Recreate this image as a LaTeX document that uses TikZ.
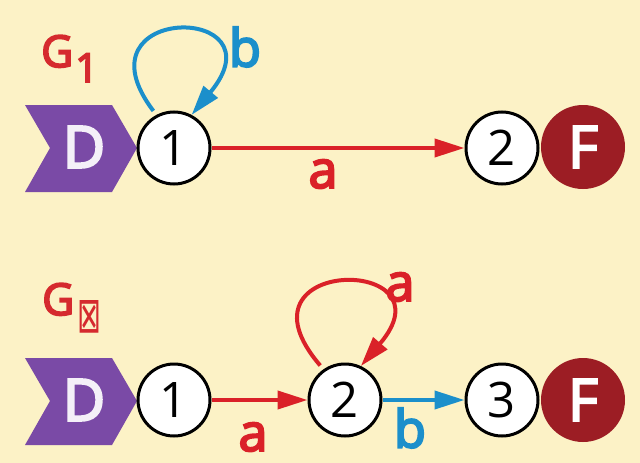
\documentclass[tikz,border=0pt]{standalone}
\usepackage{fontspec}
\setmainfont{Open Sans}
\newfontfamily\semib[FakeBold=4]{Open Sans}
\newfontfamily\symfont{DejaVu Sans}
\usetikzlibrary{arrows.meta}
\definecolor{bgyel}{HTML}{FCF2C6}
\definecolor{edred}{HTML}{DA2128}
\definecolor{gred}{HTML}{D52A2E}
\definecolor{edblue}{HTML}{1B8FCB}
\definecolor{chpurple}{HTML}{7A4AA6}
\definecolor{findred}{HTML}{9C1D24}
\tikzset{
  state/.style={circle, draw=black, line width=3pt, fill=white, minimum size=72pt, inner sep=0pt, font=\fontsize{49}{49}\selectfont},
  final/.style={circle, fill=findred, minimum size=84pt, inner sep=0pt, text=white, font=\fontsize{58}{58}\selectfont\semib},
  chev/.style={fill=chpurple},
  chevtext/.style={text=white!92!chpurple, font=\fontsize{58}{58}\selectfont\semib},
  redge/.style={draw=edred, line width=4pt, -{Triangle[length=30pt,width=18pt]}},
  bedge/.style={draw=edblue, line width=4pt, -{Triangle[length=30pt,width=18pt]}},
  lbl/.style={font=\fontsize{52}{52}\selectfont\semib},
  glbl/.style={text=gred, font=\fontsize{44}{44}\selectfont\semib, inner sep=0pt},
}
\begin{document}
\begin{tikzpicture}[x=1pt,y=-1pt]
\fill[bgyel] (0,0) rectangle (640,463);
\useasboundingbox (0,0) rectangle (640,463);
% ---- top automaton G1 ----
\fill[chev] (25,105) -- (112,105) -- (137,148) -- (112,192) -- (25,192) -- (50,148) -- cycle;
\node[chevtext] (d1) at (84,147) {D};
\node[state] (a1) at (174,148) {1};
\node[state] (a2) at (502,148) {2};
\node[final] (af) at (583,147) {F};
\node[glbl, anchor=base west] (g1) at (41,67) {G\hspace{2pt}\raisebox{-15pt}{\fontsize{40}{40}\selectfont 1}};
\draw[redge] (a1) -- (a2);
\node[lbl, text=edred] (la1) at (323,174) {a};
\draw[bedge, shorten <=5pt] (a1.118) .. controls +(-85,-112) and +(93,-112) .. (a1.62);
\node[lbl, text=edblue] (lb1) at (245,47) {b};
% ---- bottom automaton ----
\fill[chev] (25,358) -- (112,358) -- (137,401) -- (112,445) -- (25,445) -- (50,401) -- cycle;
\node[chevtext] (d2) at (84,400) {D};
\node[state] (b1) at (174,400) {1};
\node[state] (b2) at (345,400) {2};
\node[state] (b3) at (502,400) {3};
\node[final] (bf) at (583,400) {F};
\node[glbl, anchor=base west] (g2) at (42,315) {G\hspace{3pt}\raisebox{-17pt}{\resizebox{24pt}{32pt}{\symfont ⊠}}};
\draw[redge] (b1) -- (b2);
\node[lbl, text=edred] (la2) at (253,437) {a};
\draw[bedge] (b2) -- (b3);
\node[lbl, text=edblue] (lb2) at (410,428) {b};
\draw[redge, shorten <=5pt] (b2.125) .. controls +(-98,-114) and +(95,-111) .. (b2.65);
\node[lbl, text=edred] (la3) at (400,287) {a};
\end{tikzpicture}
\end{document}
